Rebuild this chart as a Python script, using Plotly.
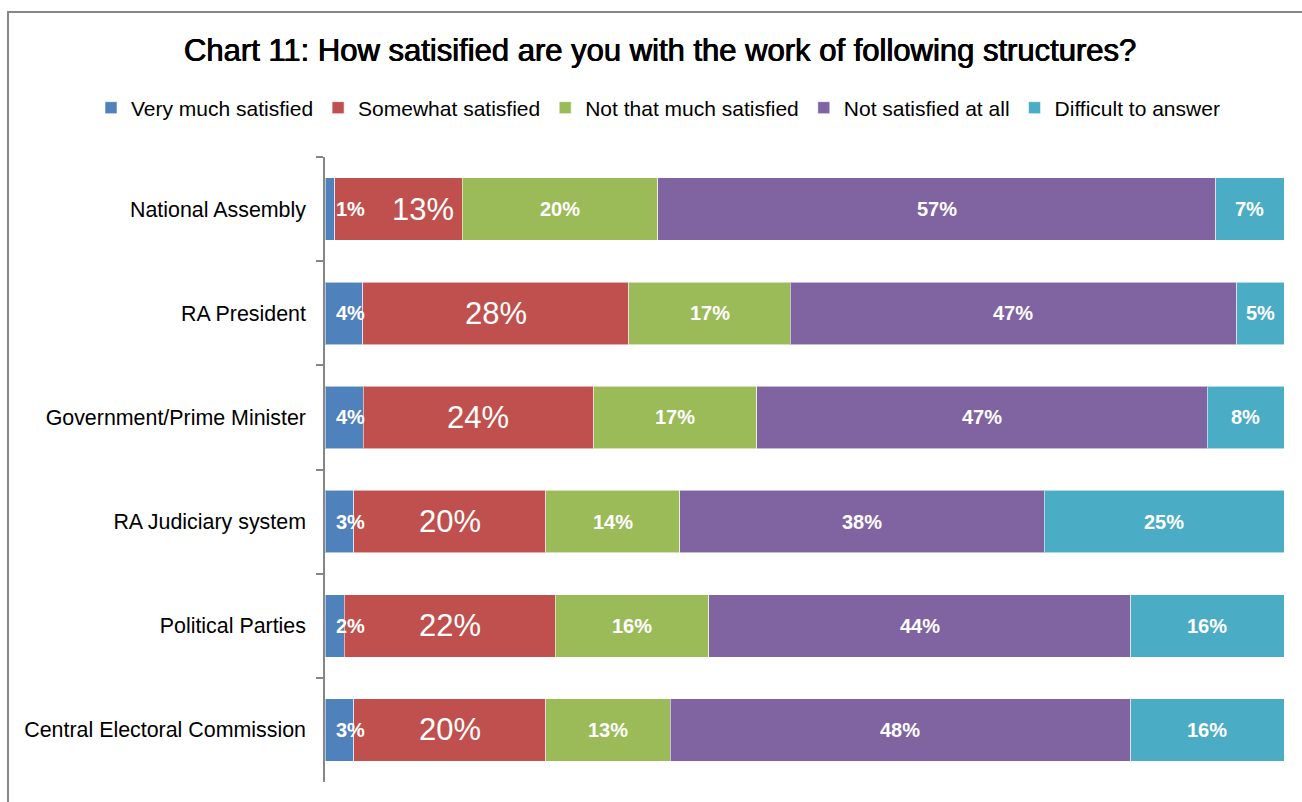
import plotly.graph_objects as go

# Survey structures (top to bottom) and response shares in percent
structures = [
    "National Assembly",
    "RA President",
    "Government/Prime Minister",
    "RA Judiciary system",
    "Political Parties",
    "Central Electoral Commission",
]
very_much = [1, 4, 4, 3, 2, 3]
somewhat = [13, 28, 24, 20, 22, 20]
not_that_much = [20, 17, 17, 14, 16, 13]
not_at_all = [57, 47, 47, 38, 44, 48]
difficult = [7, 5, 8, 25, 16, 16]

series_names = [
    "Very much satisfied",
    "Somewhat satisfied",
    "Not that much satisfied",
    "Not satisfied at all",
    "Difficult to answer",
]
series_values = [very_much, somewhat, not_that_much, not_at_all, difficult]
colors = ["#4F81BD", "#C0504D", "#9BBB59", "#8064A2", "#4BACC6"]

FONT = "Arial, Liberation Sans, sans-serif"

# plot area geometry in pixels
L, R, T, B = 325, 18, 157, 20
PW, PH = 1302 - L - R, 802 - T - B

fig = go.Figure()
for name, vals, col in zip(series_names, series_values, colors):
    fig.add_trace(go.Bar(
        y=structures,
        x=vals,
        name=name,
        orientation="h",
        marker=dict(color=col, line=dict(color="rgba(255,255,255,0.55)", width=1)),
        hoverinfo="skip",
    ))

# Data labels at the centre of each (normalised) segment
annotations = []
nudges = {(0, 1): 25}  # keep the "Somewhat" label clear of the tiny first segment
for i, s in enumerate(structures):
    row = [v[i] for v in series_values]
    total = sum(row)
    cum = 0
    for j, v in enumerate(row):
        mid = (cum + v / 2) / total * 100
        cum += v
        if j == 0:
            mid = max(mid, 2.7)
        big = (j == 1)
        annotations.append(dict(
            x=mid, y=s, xref="x", yref="y",
            text=f"{v}%" if big else f"<b>{v}%</b>",
            showarrow=False,
            xshift=nudges.get((i, j), 0),
            font=dict(family=FONT, color="white", size=31 if big else 20),
        ))

fig.update_layout(
    barmode="stack",
    barnorm="percent",
    bargap=0.4,
    width=1302,
    height=802,
    margin=dict(l=L, r=R, t=T, b=B),
    paper_bgcolor="white",
    plot_bgcolor="white",
    font=dict(family=FONT, color="black"),
    title=dict(
        text="Chart 11: How satisified are you with the work of following structures?",
        x=0.507, xanchor="center", xref="container",
        y=1 - 50 / 802, yanchor="middle", yref="container",
        font=dict(family=FONT, size=31, color="black",
                  shadow="0.5px 0 0 #000, -0.4px 0 0 #000"),
    ),
    legend=dict(
        orientation="h",
        x=(91 - L) / PW, xanchor="left",
        y=1 + (T - 108) / PH, yanchor="middle",
        font=dict(family=FONT, size=21, color="black"),
        traceorder="normal",
        itemwidth=30,
        tracegroupgap=0,
    ),
    xaxis=dict(range=[0, 100], visible=False, fixedrange=True),
    yaxis=dict(
        autorange="reversed",
        showline=True, linecolor="#868686", linewidth=1.5,
        ticks="outside", ticklen=7, tickcolor="#868686", tickwidth=1.5,
        tickson="boundaries",
        ticklabelstandoff=13,
        tickfont=dict(family=FONT, size=21.4, color="black"),
        showgrid=False,
    ),
    annotations=annotations,
    shapes=[dict(
        type="rect", xref="paper", yref="paper",
        x0=(8 - L) / PW, x1=(1330 - L) / PW,
        y0=-0.1, y1=1 + (T - 12) / PH,
        line=dict(color="#878787", width=2),
        fillcolor="rgba(0,0,0,0)",
        layer="below",
    )],
)

fig.write_html("out.html")
